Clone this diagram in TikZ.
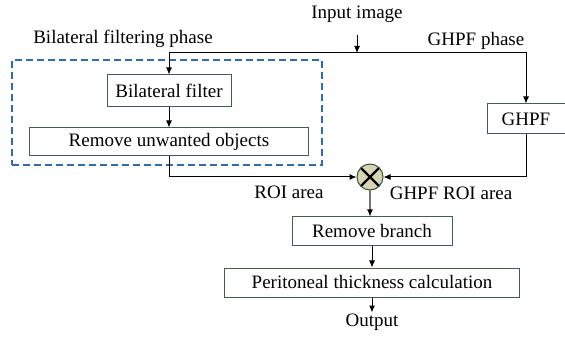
\documentclass[tikz,border=0pt]{standalone}
\usepackage{fontspec}
\setmainfont{Liberation Serif}
\usepackage{xcolor}
\usepackage{tikz}
\usetikzlibrary{arrows.meta, positioning, calc}
\definecolor{boxborder}{RGB}{62, 98, 70}
\definecolor{phaseblue}{RGB}{46, 109, 180}
\definecolor{mixfill}{RGB}{214, 214, 178}
\definecolor{mixborder}{RGB}{52, 82, 52}
\tikzset{
  font=\fontsize{19}{22}\selectfont,
  baseblock/.style={
    rectangle, draw=boxborder, fill=white, line width=1pt,
    inner sep=2pt, align=center
  },
  labeltext/.style={inner sep=1pt},
  mixblock/.style={
    circle, draw=mixborder, fill=mixfill, line width=1pt,
    minimum size=26pt, inner sep=0pt,
    path picture={
      \draw[line width=2.4pt, black]
        (path picture bounding box.north west) -- (path picture bounding box.south east)
        (path picture bounding box.north east) -- (path picture bounding box.south west);
    }
  },
  phasebox/.style={
    rectangle, draw=phaseblue, line width=1.8pt, dash pattern=on 7pt off 4pt
  },
  flowline/.style={
    draw=black, -{Latex[length=7pt, width=6pt]}, line width=1pt
  },
  grayflow/.style={
    draw=black!55, -{Latex[length=7pt, width=6pt, color=black]}, line width=1.2pt
  }
}
\begin{document}
\begin{tikzpicture}[x=1pt, y=-1pt]
  \useasboundingbox (0,0) rectangle (565,339);

  \node[phasebox, minimum width=310pt, minimum height=105pt] (bilat_phase) at (167,112.5) {};

  \node[labeltext] (input_img) at (357,14) {Input image};
  \coordinate (split) at (357,53);
  \node[labeltext] (bilat_label) at (123,39) {Bilateral filtering phase};
  \node[labeltext] (ghpf_label) at (476,41) {GHPF phase};

  \node[baseblock, minimum width=124pt, minimum height=32pt] (bilat_filter) at (169,91) {Bilateral filter};
  \node[baseblock, below=20pt of bilat_filter, minimum width=279pt, minimum height=28pt] (remove_obj) {Remove unwanted objects};

  \node[baseblock, minimum width=78pt, minimum height=30pt] (ghpf) at (526,119) {GHPF};

  \node[mixblock] (mix) at (370,177) {};
  \node[labeltext] (roi_label) at (289,192) {ROI area};
  \node[labeltext] (ghpf_roi_label) at (451,193) {GHPF ROI area};

  \node[baseblock, minimum width=160pt, minimum height=29pt] (rm_branch) at (372,231.5) {Remove branch};
  \node[baseblock, below=21pt of rm_branch, minimum width=295pt, minimum height=29pt] (thickness) {Peritoneal thickness calculation};
  \node[labeltext, below=15pt of thickness] (output) {Output};

  \draw[flowline, shorten <=11pt] (input_img) -- (split);
  \draw[flowline] (split) -| (bilat_filter);
  \draw[flowline] (split) -| (ghpf);
  \draw[flowline] (bilat_filter) -- (remove_obj);
  \draw[flowline] (remove_obj) |- (mix);
  \draw[flowline] (ghpf) |- (mix);
  \draw[grayflow] (mix) -- (mix |- rm_branch.north);
  \draw[flowline] (rm_branch) -- (thickness);
  \draw[flowline] (thickness) -- (output);
\end{tikzpicture}
\end{document}
